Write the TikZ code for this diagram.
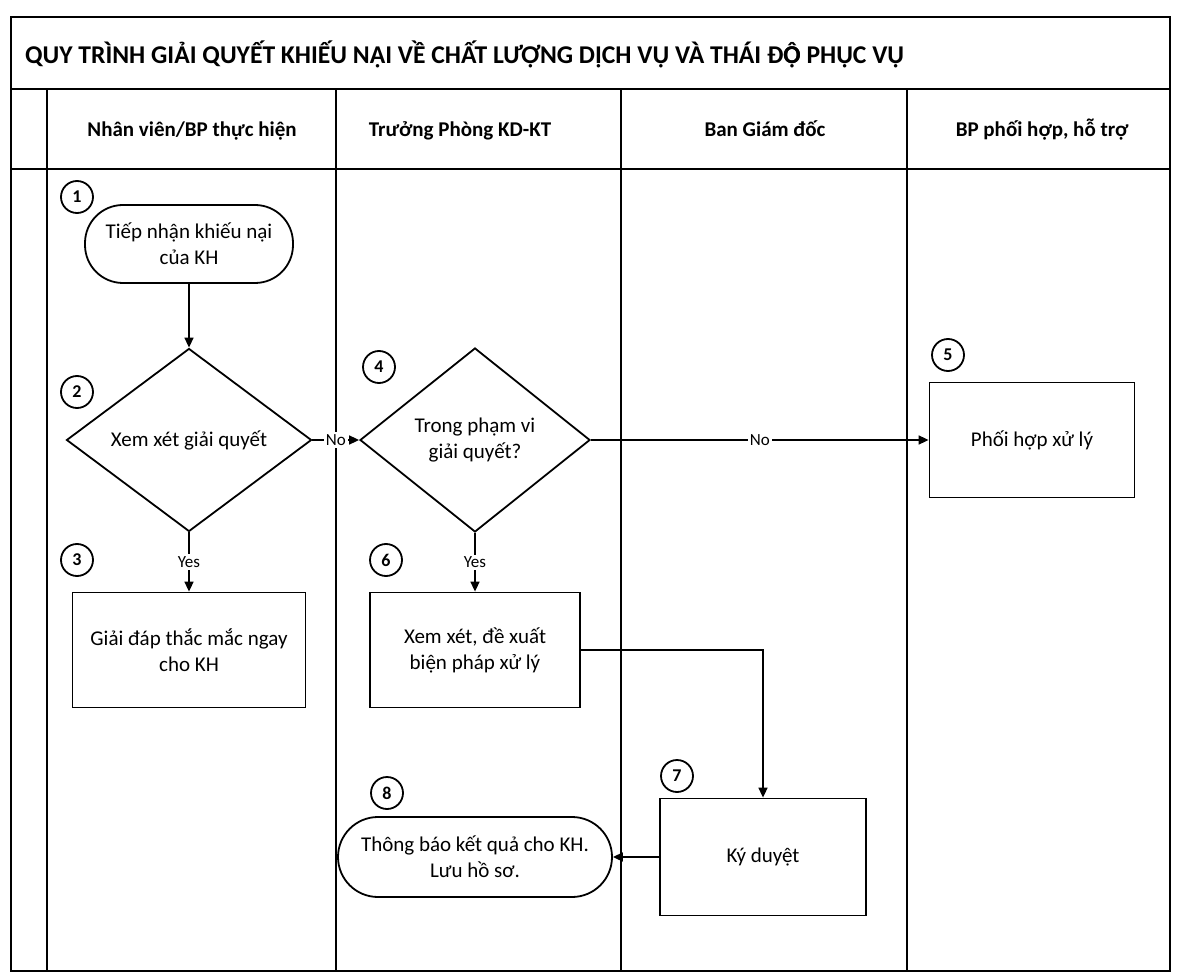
\documentclass[tikz,border=0pt]{standalone}
\usepackage{fontspec}
\setmainfont{Carlito}
\usetikzlibrary{shapes.geometric,arrows.meta}
\newcommand\OdotCirc{\makebox[0pt][l]{Ọ}Ô}
\begin{document}
\begin{tikzpicture}[x=0.5pt,y=-0.5pt,
  frameline/.style={line width=1.3pt},
  proc/.style={draw, line width=0.9pt, rectangle, align=center,
    font=\fontsize{10.5}{13}\selectfont, inner sep=0pt},
  term/.style={proc, rounded corners=19pt},
  dec/.style={draw, line width=0.9pt, diamond, align=center, aspect=1.33,
    font=\fontsize{10.5}{13}\selectfont, inner sep=0pt},
  num/.style={draw, circle, line width=0.9pt, minimum size=16pt, inner sep=0pt,
    font=\bfseries\fontsize{9}{9}\selectfont},
  lbl/.style={fill=white, inner sep=1pt, font=\fontsize{8.5}{9}\selectfont},
  conn/.style={line width=0.8pt, -{Triangle[length=5pt,width=4.5pt]}},
  hdr/.style={anchor=base, font=\bfseries\fontsize{10.5}{12}\selectfont}
]
\useasboundingbox (0,0) rectangle (1177,978);
% frame
\draw[frameline] (11,17) rectangle (1170,971);
\draw[frameline] (11,89) -- (1170,89);
\draw[frameline] (11,169) -- (1170,169);
\draw[frameline] (47,89) -- (47,971);
\draw[frameline] (336,89) -- (336,971);
\draw[frameline] (621,89) -- (621,971);
\draw[frameline] (907,89) -- (907,971);
% title and headers
\node[anchor=west, font=\bfseries\fontsize{12.8}{14}\selectfont] (title) at (18,54)
  {QUY TRÌNH GIẢI QUYẾT KHIẾU NẠI VỀ CHẤT LƯỢNG DỊCH VỤ VÀ THÁI Đ\OdotCirc{} PHỤC VỤ};
\node[hdr] (h1) at (192,137) {Nhân viên/BP thực hiện};
\node[hdr] (h2) at (460,137) {Trưởng Phòng KD-KT};
\node[hdr] (h3) at (765,137) {Ban Giám đốc};
\node[hdr] (h4) at (1042,137) {BP phối hợp, hỗ trợ};
% nodes
\node[term, minimum width=104pt, minimum height=39pt] (t1) at (189,244)
  {Tiếp nhận khiếu nại\\của KH};
\node[dec, minimum width=122.5pt, minimum height=91.5pt] (d2) at (189,440)
  {Xem xét giải quyết};
\node[proc, minimum width=116.5pt, minimum height=57.5pt] (b3) at (189,650)
  {Giải đáp thắc mắc ngay\\cho KH};
\node[dec, minimum width=115pt, minimum height=92pt] (d4) at (475,440)
  {Trong phạm vi\\giải quyết?};
\node[proc, minimum width=102.5pt, minimum height=57.5pt] (b5) at (1032,440)
  {Phối hợp xử lý};
\node[proc, minimum width=105pt, minimum height=57.5pt] (b6) at (475,650)
  {Xem xét, đề xuất\\biện pháp xử lý};
\node[proc, minimum width=103pt, minimum height=58.5pt] (b7) at (763,857)
  {Ký duyệt};
\node[term, rounded corners=20pt, minimum width=137pt, minimum height=40pt] (t8) at (475,857)
  {Thông báo kết quả cho KH.\\Lưu hồ sơ.};
% step numbers
\node[num] (n1) at (77,197) {1};
\node[num] (n2) at (77,392) {2};
\node[num] (n3) at (77,560) {3};
\node[num] (n4) at (379,367) {4};
\node[num] (n5) at (948,355) {5};
\node[num] (n6) at (386,560) {6};
\node[num] (n7) at (677,776) {7};
\node[num] (n8) at (387,793) {8};
% connectors
\draw[conn] (t1) -- (d2);
\draw[conn] (d2.south) -- (b3.north) node[lbl, midway] {Yes};
\draw[conn] (d2.east) -- (d4.west) node[lbl, midway] {No};
\draw[conn] (d4.east) -- (b5.west) node[lbl, midway] {No};
\draw[conn] (d4.south) -- (b6.north) node[lbl, midway] {Yes};
\draw[conn] (b6.east) -| (b7.north);
\draw[conn] (b7.west) -- (t8.east);
\end{tikzpicture}
\end{document}
